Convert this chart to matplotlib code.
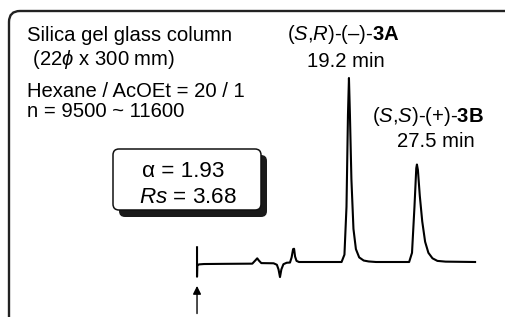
import matplotlib
matplotlib.use("Agg")
import matplotlib.pyplot as plt
from matplotlib.patches import FancyBboxPatch, PathPatch
from matplotlib.path import Path

plt.rcParams['font.family'] = ['Liberation Sans', 'DejaVu Sans']
plt.rcParams['mathtext.fontset'] = 'custom'
plt.rcParams['mathtext.rm'] = 'Liberation Sans'
plt.rcParams['mathtext.it'] = 'Liberation Sans:italic'
plt.rcParams['mathtext.bf'] = 'Liberation Sans:bold'

# chromatogram trace (time in min, detector signal, peak 3A = 100)
time_min = [0.65, 0.65, 0.68, 0.9, 1.5, 4.0, 7.4, 7.8, 8.0, 8.2, 8.5, 10.0, 10.4,
            10.6, 10.78, 10.95, 11.2, 11.6, 12.0, 12.2, 12.38, 12.5, 12.62, 12.8,
            13.1, 13.6, 18.3, 18.65, 18.9, 19.08, 19.2, 19.32, 19.5, 19.75, 20.05,
            20.45, 21.0, 21.6, 22.5, 26.55, 26.9, 27.2, 27.42, 27.5, 27.62, 27.85,
            28.15, 28.5, 28.9, 29.4, 30.0, 31.0, 34.6]
signal = [8.0, -8.0, -1.8, -1.3, -1.1, -1.0, -0.9, 1.0, 2.0, 0.8, -0.6, -0.7, -1.5,
          -4.0, -8.2, -4.0, -1.2, -0.4, -0.3, 2.5, 7.0, 7.2, 3.0, 0.6,
          0.0, 0.0, 0.0, 4.0, 30.0, 80.0, 100.0, 80.0, 45.0, 18.0, 7.0,
          2.5, 0.8, 0.3, 0.0, 0.0, 5.0, 30.0, 51.0, 53.0, 50.0, 36.0,
          22.0, 11.0, 5.0, 2.0, 0.6, 0.2, 0.0]

inject_time = 0.65

info_lines = ["Silica gel glass column", r" (22$\mathit{\phi}$ x 300 mm)",
              "Hexane / AcOEt = 20 / 1", "n = 9500 ~ 11600"]
peak_a_label = [r"($\mathit{S}$,$\mathit{R}$)-(–)-$\mathbf{3A}$", "19.2 min"]
peak_b_label = [r"($\mathit{S}$,$\mathit{S}$)-(+)-$\mathbf{3B}$", "27.5 min"]
alpha_text = "α = 1.93"
rs_text = r"$\mathit{Rs}$ = 3.68"

W, H = 506, 317
fig = plt.figure(figsize=(W / 100, H / 100), dpi=100)

# pixel-space overlay for frame, box and labels
ax = fig.add_axes([0, 0, 1, 1])
ax.set_xlim(0, W)
ax.set_ylim(H, 0)
ax.axis('off')

# outer frame: only the top-left corner is inside the picture
r = 11
frame_path = Path([(9, H + 10), (9, 11 + r), (9, 11), (9 + r, 11), (W + 10, 11)],
                  [Path.MOVETO, Path.LINETO, Path.CURVE3, Path.CURVE3, Path.LINETO])
ax.add_patch(PathPatch(frame_path, fc='none', ec='#222222', lw=1.7))

shadow = FancyBboxPatch((119, 155), 148, 62, boxstyle="round,pad=0,rounding_size=6",
                        lw=0, fc='#1a1a1a')
box = FancyBboxPatch((113, 149), 148, 61, boxstyle="round,pad=0,rounding_size=6",
                     lw=1.1, ec='#111111', fc='white')
ax.add_patch(shadow)
ax.add_patch(box)

fs = 14.6
ax.text(27, 41, info_lines[0], fontsize=fs, va='baseline')
ax.text(27, 65, info_lines[1], fontsize=fs, va='baseline')
ax.text(27, 97, info_lines[2], fontsize=fs, va='baseline')
ax.text(27, 117, info_lines[3], fontsize=fs, va='baseline')

ax.text(343, 40, peak_a_label[0], fontsize=fs, va='baseline', ha='center')
ax.text(346, 67, peak_a_label[1], fontsize=fs, va='baseline', ha='center')
ax.text(428, 122, peak_b_label[0], fontsize=fs, va='baseline', ha='center')
ax.text(436, 147, peak_b_label[1], fontsize=fs, va='baseline', ha='center')

ax.text(142, 177, alpha_text, fontsize=16.2, va='baseline')
ax.text(139, 203, rs_text, fontsize=16.2, va='baseline')

# chromatogram in its own axes (min vs signal)
px_per_min = 8.19
px_per_unit = 1.84
t0_px = 191.7
base_px = H - 262
t_lo, t_hi = 0, 35
s_lo, s_hi = -20, 110
cax = fig.add_axes([(t0_px + t_lo * px_per_min) / W,
                    (base_px + s_lo * px_per_unit) / H,
                    (t_hi - t_lo) * px_per_min / W,
                    (s_hi - s_lo) * px_per_unit / H])
cax.set_xlim(t_lo, t_hi)
cax.set_ylim(s_lo, s_hi)
cax.axis('off')
cax.patch.set_alpha(0)
cax.plot(time_min, signal, color='black', lw=1.5, solid_joinstyle='round', clip_on=False)

# injection arrow
cax.annotate("", xy=(inject_time, -13.0), xytext=(inject_time, -28.0),
             arrowprops=dict(arrowstyle='-|>', color='black', lw=1.0,
                             mutation_scale=12, shrinkA=0, shrinkB=0),
             annotation_clip=False)

fig.savefig("out.png", dpi=100)
